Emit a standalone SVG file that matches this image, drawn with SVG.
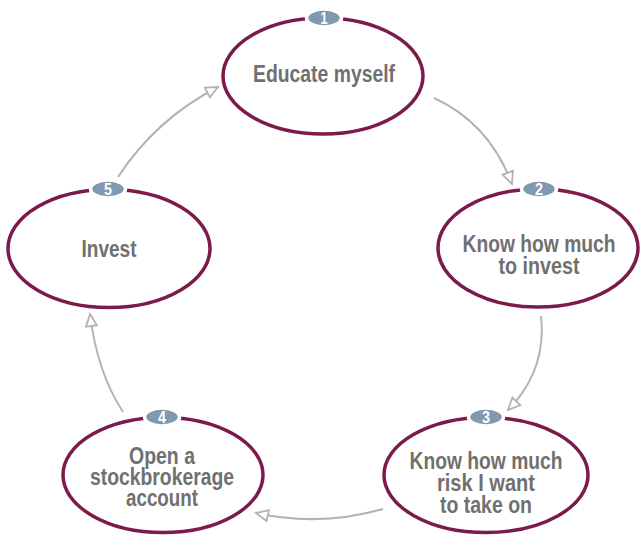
<svg xmlns="http://www.w3.org/2000/svg" width="640" height="537" viewBox="0 0 640 537">
<style>
.ring{fill:#fff;stroke:#7b1b4b;stroke-width:3.5}
.badge{fill:#8199ae;stroke:#fff;stroke-width:3.5}
.num{font-family:"Liberation Sans Narrow","Liberation Sans",Arial,sans-serif;font-weight:bold;font-size:16px;fill:#fff;text-anchor:middle}
.lbl{font-family:"Liberation Sans Narrow","Liberation Sans",Arial,sans-serif;font-weight:bold;font-size:23.5px;fill:#707070;text-anchor:middle}
.arr{fill:none;stroke:#b3b3b3;stroke-width:2;marker-end:url(#tri)}
</style>
<defs>
<marker id="tri" markerUnits="userSpaceOnUse" markerWidth="18" markerHeight="16" refX="14" refY="7" orient="auto">
<path d="M2,1.5 L14,7 L2,12.5 Z" fill="#fff" stroke="#b3b3b3" stroke-width="1.8" stroke-linejoin="miter"/>
</marker>
</defs>
<rect width="640" height="537" fill="#fff"/>
<g id="connectors">
<path class="arr" d="M434,98 Q489,123 512,184"/>
<path class="arr" d="M541,316 Q547,370 508,410"/>
<path class="arr" d="M383,509 Q320,527 256,513"/>
<path class="arr" d="M123,412 Q97,372 90,314"/>
<path class="arr" d="M118,177 Q156,119 218,87"/>
</g>
<g id="node1">
<ellipse class="ring" cx="323" cy="76" rx="100" ry="58"/>
<ellipse class="badge" cx="324" cy="18" rx="17.5" ry="9"/>
<text class="num" x="324" y="24" textLength="7" lengthAdjust="spacingAndGlyphs">1</text>
<text class="lbl" x="324" y="82" textLength="142" lengthAdjust="spacingAndGlyphs">Educate myself</text>
</g>
<g id="node2">
<ellipse class="ring" cx="538" cy="248" rx="100" ry="59"/>
<ellipse class="badge" cx="539" cy="189" rx="17.5" ry="9"/>
<text class="num" x="539" y="195" textLength="8" lengthAdjust="spacingAndGlyphs">2</text>
<text class="lbl" x="539" y="252" textLength="153" lengthAdjust="spacingAndGlyphs">Know how much</text>
<text class="lbl" x="539" y="274" textLength="81" lengthAdjust="spacingAndGlyphs">to invest</text>
</g>
<g id="node3">
<ellipse class="ring" cx="486" cy="475" rx="102" ry="57.5"/>
<ellipse class="badge" cx="486" cy="417" rx="17.5" ry="9"/>
<text class="num" x="486" y="423" textLength="8" lengthAdjust="spacingAndGlyphs">3</text>
<text class="lbl" x="486" y="469" textLength="153" lengthAdjust="spacingAndGlyphs">Know how much</text>
<text class="lbl" x="486" y="491" textLength="98" lengthAdjust="spacingAndGlyphs">risk I want</text>
<text class="lbl" x="486" y="513" textLength="92" lengthAdjust="spacingAndGlyphs">to take on</text>
</g>
<g id="node4">
<ellipse class="ring" cx="163" cy="475" rx="100" ry="57.5"/>
<ellipse class="badge" cx="162" cy="417" rx="17.5" ry="9"/>
<text class="num" x="162" y="423" textLength="8" lengthAdjust="spacingAndGlyphs">4</text>
<text class="lbl" x="162" y="464" textLength="66" lengthAdjust="spacingAndGlyphs">Open a</text>
<text class="lbl" x="162" y="485" textLength="144" lengthAdjust="spacingAndGlyphs">stockbrokerage</text>
<text class="lbl" x="162" y="506" textLength="72" lengthAdjust="spacingAndGlyphs">account</text>
</g>
<g id="node5">
<ellipse class="ring" cx="109" cy="248.5" rx="101" ry="59"/>
<ellipse class="badge" cx="108" cy="189" rx="17.5" ry="9"/>
<text class="num" x="108" y="195" textLength="8" lengthAdjust="spacingAndGlyphs">5</text>
<text class="lbl" x="109" y="257" textLength="55" lengthAdjust="spacingAndGlyphs">Invest</text>
</g>
</svg>
